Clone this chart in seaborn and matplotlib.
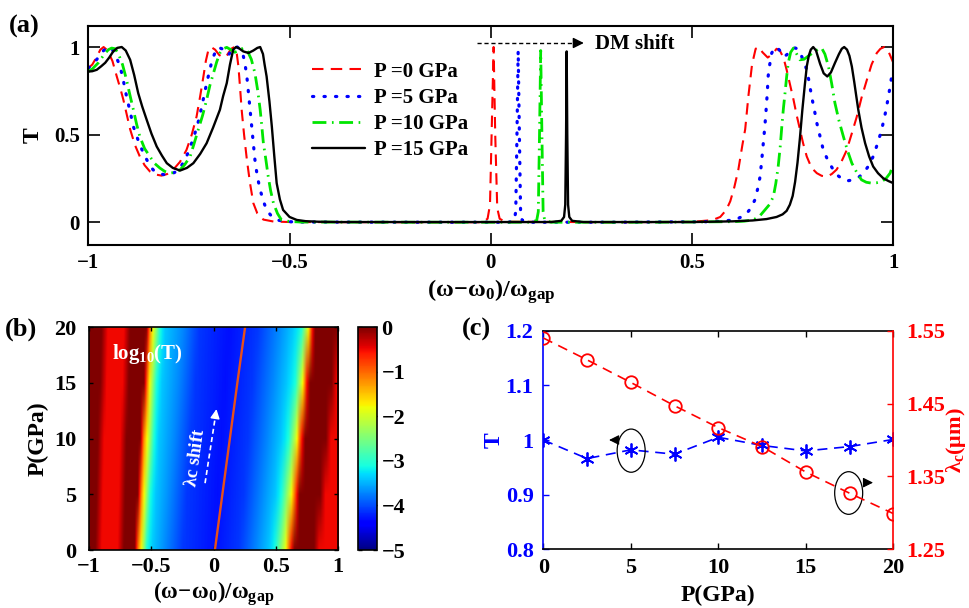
import numpy as np
import matplotlib
matplotlib.use("Agg")
import matplotlib.pyplot as plt
import seaborn as sns
from matplotlib.patches import Ellipse

# ---------------- Panel (a): transmission spectra ----------------
red_x = [-1.0, -0.99, -0.98, -0.97, -0.962, -0.952, -0.94, -0.929, -0.92, -0.913, -0.905, -0.896, -0.884,
         -0.872, -0.86, -0.847, -0.832, -0.818, -0.804, -0.789, -0.772, -0.756, -0.743, -0.731, -0.722,
         -0.714, -0.708, -0.702, -0.695, -0.685, -0.675, -0.665, -0.655, -0.645, -0.637, -0.631, -0.627,
         -0.623, -0.619, -0.613, -0.606, -0.598, -0.59, -0.58, -0.565, -0.54, -0.5, -0.2, -0.02, -0.008,
         -0.002, 0.003, 0.007, 0.011, 0.016, 0.022, 0.035, 0.3, 0.5, 0.55, 0.57, 0.585, 0.595, 0.605,
         0.615, 0.625, 0.632, 0.64, 0.649, 0.658, 0.666, 0.675, 0.688, 0.7, 0.71, 0.718, 0.727, 0.735,
         0.744, 0.752, 0.76, 0.768, 0.776, 0.785, 0.797, 0.81, 0.822, 0.835, 0.847, 0.859, 0.871, 0.884,
         0.896, 0.909, 0.921, 0.934, 0.946, 0.959, 0.968, 0.977, 0.987, 1.0]
red_T = [0.88, 0.9, 0.94, 0.985, 1.0, 0.98, 0.92, 0.83, 0.76, 0.7, 0.62, 0.53, 0.44,
         0.375, 0.325, 0.29, 0.272, 0.266, 0.275, 0.3, 0.345, 0.413, 0.5, 0.603, 0.72,
         0.832, 0.92, 0.98, 1.0, 0.985, 0.955, 0.94, 0.955, 0.99, 1.0, 0.96, 0.889,
         0.77, 0.642, 0.5, 0.356, 0.22, 0.109, 0.05, 0.015, 0.004, 0.001, 0.0, 0.0, 0.02,
         0.1, 0.6, 1.0, 0.5, 0.08, 0.02, 0.003, 0.0, 0.002, 0.012, 0.03, 0.07, 0.12, 0.2,
         0.3, 0.44, 0.53, 0.72, 0.9, 0.99, 1.0, 0.97, 0.94, 0.96, 0.99, 0.98, 0.94, 0.87,
         0.78, 0.7, 0.61, 0.53, 0.45, 0.375, 0.31, 0.28, 0.265, 0.26, 0.275, 0.3, 0.345, 0.41,
         0.5, 0.6, 0.71, 0.81, 0.9, 0.966, 0.99, 1.0, 0.98, 0.91]

blue_x = [-1.0, -0.99, -0.975, -0.962, -0.95, -0.94, -0.93, -0.921, -0.913, -0.905, -0.896, -0.888, -0.875,
          -0.863, -0.851, -0.839, -0.824, -0.809, -0.795, -0.78, -0.768, -0.756, -0.745, -0.735, -0.726,
          -0.718, -0.71, -0.702, -0.695, -0.689, -0.683, -0.677, -0.668, -0.66, -0.652, -0.645, -0.638,
          -0.63, -0.622, -0.615, -0.611, -0.606, -0.602, -0.598, -0.594, -0.59, -0.586, -0.58, -0.573,
          -0.565, -0.557, -0.545, -0.532, -0.51, -0.48, -0.2, 0.045, 0.058, 0.062, 0.065, 0.068, 0.071,
          0.074, 0.078, 0.09, 0.3, 0.55, 0.58, 0.607, 0.622, 0.636, 0.646, 0.656, 0.663, 0.669, 0.673,
          0.677, 0.681, 0.684, 0.687, 0.689, 0.693, 0.698, 0.704, 0.71, 0.718, 0.727, 0.735, 0.745, 0.755,
          0.762, 0.77, 0.777, 0.785, 0.791, 0.797, 0.804, 0.81, 0.818, 0.826, 0.838, 0.851, 0.863, 0.876,
          0.888, 0.901, 0.913, 0.926, 0.938, 0.95, 0.961, 0.971, 0.98, 0.988, 0.996, 1.0]
blue_T = [0.88, 0.9, 0.94, 0.98, 1.0, 0.985, 0.94, 0.889, 0.81, 0.718, 0.63, 0.546, 0.46,
          0.394, 0.34, 0.299, 0.278, 0.27, 0.275, 0.29, 0.325, 0.375, 0.44, 0.508, 0.58,
          0.661, 0.75, 0.832, 0.9, 0.946, 0.98, 0.998, 0.99, 0.965, 0.955, 0.975, 0.998,
          1.0, 0.985, 0.95, 0.909, 0.83, 0.737, 0.64, 0.546, 0.45, 0.356, 0.26, 0.185,
          0.12, 0.07, 0.035, 0.013, 0.004, 0.001, 0.0, 0.0, 0.01, 0.06, 0.5, 0.98, 0.5,
          0.06, 0.01, 0.0, 0.0, 0.003, 0.008, 0.013, 0.03, 0.051, 0.08, 0.127, 0.19, 0.26, 0.35,
          0.451, 0.55, 0.642, 0.74, 0.832, 0.9, 0.966, 0.99, 1.0, 0.98, 0.946, 0.955, 0.98, 0.995,
          0.99, 0.96, 0.92, 0.87, 0.8, 0.718, 0.64, 0.566, 0.49, 0.413, 0.35, 0.299, 0.265, 0.242,
          0.237, 0.242, 0.255, 0.28, 0.32, 0.375, 0.45, 0.527, 0.62, 0.718, 0.832, 0.87]

green_x = [-1.0, -0.99, -0.975, -0.96, -0.95, -0.942, -0.933, -0.925, -0.915, -0.905, -0.897, -0.888, -0.88,
           -0.872, -0.86, -0.847, -0.835, -0.822, -0.81, -0.797, -0.785, -0.772, -0.76, -0.747, -0.737,
           -0.727, -0.716, -0.706, -0.698, -0.689, -0.681, -0.673, -0.665, -0.656, -0.646, -0.636, -0.626,
           -0.615, -0.605, -0.595, -0.586, -0.579, -0.573, -0.569, -0.565, -0.559, -0.553, -0.547, -0.54,
           -0.53, -0.52, -0.5, -0.47, -0.2, 0.1, 0.114, 0.118, 0.121, 0.124, 0.127, 0.13, 0.134, 0.15,
           0.4, 0.6, 0.63, 0.652, 0.668, 0.681, 0.692, 0.702, 0.708, 0.714, 0.719, 0.723, 0.727, 0.731,
           0.735, 0.739, 0.745, 0.752, 0.76, 0.768, 0.778, 0.79, 0.805, 0.815, 0.822, 0.83, 0.839, 0.847,
           0.855, 0.865, 0.876, 0.886, 0.897, 0.909, 0.921, 0.933, 0.946, 0.958, 0.971, 0.982, 0.992, 1.0]
green_T = [0.86, 0.875, 0.91, 0.96, 0.985, 0.994, 0.99, 0.96, 0.9, 0.813, 0.73, 0.642, 0.56,
           0.489, 0.42, 0.375, 0.335, 0.309, 0.29, 0.28, 0.285, 0.299, 0.33, 0.375, 0.45,
           0.527, 0.61, 0.699, 0.78, 0.851, 0.915, 0.966, 0.99, 0.998, 0.985, 0.97, 0.98,
           0.994, 0.98, 0.93, 0.851, 0.75, 0.642, 0.55, 0.451, 0.36, 0.261, 0.18, 0.109,
           0.05, 0.013, 0.004, 0.001, 0.0, 0.0, 0.01, 0.06, 0.5, 0.98, 0.5, 0.06, 0.01, 0.0,
           0.0, 0.003, 0.006, 0.013, 0.035, 0.07, 0.1, 0.146, 0.22, 0.318, 0.43, 0.546, 0.65, 0.737,
           0.83, 0.909, 0.97, 0.994, 0.96, 0.927, 0.93, 0.95, 0.975, 0.99, 0.994, 0.96, 0.889, 0.79,
           0.68, 0.58, 0.489, 0.41, 0.337, 0.285, 0.242, 0.228, 0.223, 0.225, 0.232, 0.25, 0.28, 0.33]

black_x = [-1.0, -0.99, -0.979, -0.968, -0.958, -0.948, -0.938, -0.928, -0.917, -0.907, -0.896, -0.886, -0.876,
           -0.866, -0.855, -0.843, -0.83, -0.817, -0.805, -0.79, -0.772, -0.755, -0.739, -0.722, -0.706,
           -0.69, -0.673, -0.665, -0.656, -0.648, -0.64, -0.633, -0.627, -0.615, -0.602, -0.59, -0.58,
           -0.573, -0.566, -0.562, -0.557, -0.55, -0.544, -0.538, -0.532, -0.524, -0.516, -0.5, -0.482,
           -0.46, -0.43, -0.38, 0.15, 0.175, 0.182, 0.185, 0.187, 0.1885, 0.19, 0.192, 0.195, 0.202, 0.23,
           0.5, 0.55, 0.6, 0.65, 0.685, 0.71, 0.725, 0.735, 0.743, 0.75, 0.756, 0.762, 0.768, 0.774, 0.78,
           0.785, 0.79, 0.795, 0.801, 0.808, 0.818, 0.827, 0.836, 0.845, 0.855, 0.865, 0.872, 0.878, 0.885,
           0.891, 0.897, 0.903, 0.908, 0.913, 0.921, 0.93, 0.94, 0.95, 0.962, 0.975, 0.988, 1.0]
black_T = [0.86, 0.862, 0.87, 0.89, 0.91, 0.94, 0.975, 0.995, 1.0, 0.98, 0.927, 0.84, 0.737,
           0.66, 0.585, 0.505, 0.432, 0.38, 0.337, 0.31, 0.295, 0.31, 0.337, 0.39, 0.451,
           0.54, 0.642, 0.72, 0.794, 0.9, 0.985, 1.0, 0.995, 0.975, 0.966, 0.98, 0.995,
           1.0, 0.96, 0.9, 0.832, 0.69, 0.546, 0.38, 0.223, 0.13, 0.07, 0.03, 0.013,
           0.006, 0.003, 0.001, 0.001, 0.008, 0.03, 0.1, 0.5, 0.975, 0.5, 0.1, 0.03, 0.008, 0.001,
           0.001, 0.003, 0.005, 0.01, 0.018, 0.03, 0.045, 0.065, 0.1, 0.15, 0.23, 0.34, 0.48, 0.64, 0.78,
           0.889, 0.95, 0.985, 1.0, 0.98, 0.905, 0.85, 0.832, 0.855, 0.909, 0.96, 0.99, 1.0, 0.985,
           0.95, 0.889, 0.8, 0.72, 0.642, 0.54, 0.451, 0.375, 0.318, 0.28, 0.251, 0.235, 0.223]

legend_labels = ["P =0 GPa", "P =5 GPa", "P =10 GPa", "P =15 GPa"]

# ---------------- Panel (b): log10(T) map ----------------
hm_P = [0, 5, 10, 15, 20]
hm_levels = [0.0, 0.0, -0.5, -0.5, 0.0, 0.0, -1.2, -1.9, -3.1, -3.4, -3.7, -4.1, -4.3,
             -4.1, -3.7, -3.4, -3.1, -1.9, -1.2, -0.6, 0.0, 0.0, -0.5, -0.5]
hm_x_P0 = [-1.00, -0.95, -0.90, -0.77, -0.72, -0.635, -0.604, -0.577, -0.537, -0.49, -0.39, -0.25, 0.00,
           0.20, 0.34, 0.44, 0.49, 0.57, 0.595, 0.615, 0.645, 0.80, 0.84, 1.00]
hm_x_P5 = [-1.00, -0.94, -0.89, -0.76, -0.71, -0.61, -0.58, -0.555, -0.51, -0.465, -0.355, -0.22, 0.03,
           0.24, 0.385, 0.49, 0.54, 0.615, 0.64, 0.66, 0.685, 0.85, 0.89, 1.05]
hm_x_P10 = [-1.00, -0.93, -0.88, -0.75, -0.70, -0.59, -0.56, -0.53, -0.48, -0.44, -0.32, -0.185, 0.06,
            0.275, 0.43, 0.535, 0.595, 0.66, 0.68, 0.70, 0.73, 0.895, 0.935, 1.10]
hm_x_P15 = [-1.00, -0.91, -0.86, -0.73, -0.68, -0.56, -0.53, -0.51, -0.46, -0.415, -0.285, -0.15, 0.09,
            0.31, 0.475, 0.58, 0.65, 0.705, 0.725, 0.74, 0.77, 0.94, 0.98, 1.15]
hm_x_P20 = [-1.00, -0.90, -0.85, -0.72, -0.67, -0.54, -0.51, -0.484, -0.43, -0.39, -0.25, -0.12, 0.12,
            0.35, 0.52, 0.63, 0.70, 0.75, 0.77, 0.785, 0.81, 0.99, 1.03, 1.20]
dm_P = [0, 5, 10, 15, 20]
dm_x = [0.010, 0.070, 0.130, 0.190, 0.252]

# ---------------- Panel (c) ----------------
P_c = [0, 2.5, 5, 7.5, 10, 12.5, 15, 17.5, 20]
T_c = [1.000, 0.966, 0.982, 0.974, 1.005, 0.990, 0.980, 0.988, 1.001]
lam_c = [1.540, 1.510, 1.479, 1.447, 1.417, 1.391, 1.356, 1.327, 1.299]

# ---------------- style ----------------
sns.set_style("ticks")
plt.rcParams["font.family"] = ["Liberation Serif", "DejaVu Serif"]
plt.rcParams["font.weight"] = "bold"
plt.rcParams["axes.labelweight"] = "bold"
plt.rcParams["mathtext.fontset"] = "custom"
plt.rcParams["mathtext.rm"] = "Liberation Serif:bold"
plt.rcParams["mathtext.it"] = "Liberation Serif:bold"
plt.rcParams["mathtext.bf"] = "Liberation Serif:bold"
plt.rcParams["axes.edgecolor"] = "black"
plt.rcParams["xtick.color"] = "black"
plt.rcParams["ytick.color"] = "black"
plt.rcParams["axes.labelcolor"] = "black"
plt.rcParams["text.color"] = "black"

fig = plt.figure(figsize=(9.69, 6.08), dpi=100)
W, H = 969.0, 608.0


def box(l, t, r, b):
    return [l / W, 1 - b / H, (r - l) / W, (b - t) / H]


xlab = r"$\mathrm{(\omega\!-\!\omega_0)/\omega_{gap}}$"

# ---------- (a) ----------
axa = fig.add_axes(box(88.3, 26, 893.3, 245))
styles = [
    (red_x, red_T, "#ff0000", 1.5, (0, (5.5, 3.5)), "butt"),
    (blue_x, blue_T, "#0000ff", 2.3, (0, (0.4, 3.2)), "round"),
    (green_x, green_T, "#00e600", 2.0, (0, (5.0, 2.0, 0.6, 2.0)), "butt"),
    (black_x, black_T, "#000000", 1.7, "-", "butt"),
]
for (xs, ys, col, lw, ls, cap), lab in zip(styles, legend_labels):
    sns.lineplot(x=xs, y=ys, ax=axa, color=col, lw=lw, linestyle=ls, estimator=None, sort=False,
                 label=lab, dash_capstyle=cap)
axa.set_xlim(-1, 1)
axa.set_ylim(-0.13, 1.12)
axa.set_xticks([-1, -0.5, 0, 0.5, 1])
axa.set_xticklabels(["\u22121", "\u22120.5", "0", "0.5", "1"])
axa.set_yticks([0, 0.5, 1])
axa.set_yticklabels(["0", "0.5", "1"])
axa.tick_params(direction="in", length=8.5, width=1.2, top=True, right=True, labelsize=15, pad=6)
for s in axa.spines.values():
    s.set_linewidth(1.5)
axa.set_xlabel(xlab, fontsize=17.5)
axa.xaxis.set_label_coords(0.5, -0.145)
axa.set_ylabel("T", fontsize=17, rotation=90)
axa.yaxis.set_label_coords(-0.055, 0.5)
leg = axa.legend(loc="upper left", bbox_to_anchor=(0.268, 0.875), frameon=False, fontsize=15,
                 handlelength=2.55, handletextpad=0.4, labelspacing=0.3, borderaxespad=0)
# DM shift arrow
axa.plot([-0.034, 0.215], [1.023, 1.023], color="black", lw=1.0, linestyle=(0, (3, 2)))
axa.annotate("", xy=(0.238, 1.023), xytext=(0.205, 1.023),
             arrowprops=dict(arrowstyle="-|>", color="black", lw=1.0, mutation_scale=16))
axa.text(0.259, 1.018, "DM shift", fontsize=15, fontweight="bold", ha="left", va="center")

# ---------- (b) ----------
axb = fig.add_axes(box(89, 327.3, 338.3, 550))
x_fine = np.linspace(-1, 1, 801)
rows = [hm_x_P0, hm_x_P5, hm_x_P10, hm_x_P15, hm_x_P20]
Z = np.array([np.interp(x_fine, r, hm_levels) for r in rows])
dx = x_fine[1] - x_fine[0]
img = axb.imshow(Z, extent=[-1 - dx / 2, 1 + dx / 2, -2.5, 22.5], origin="lower", aspect="auto",
                 interpolation="bilinear", cmap="jet", vmin=-5, vmax=0)
sns.lineplot(x=dm_x, y=dm_P, ax=axb, color="#e8501a", lw=1.7, estimator=None, sort=False)
axb.set_xlim(-1, 1)
axb.set_ylim(0, 20)
axb.set_xticks([-1, -0.5, 0, 0.5, 1])
axb.set_xticklabels(["\u22121", "\u22120.5", "0", "0.5", "1"])
axb.set_yticks([0, 5, 10, 15, 20])
axb.set_yticklabels(["0", "5", "10", "15", "20"])
axb.tick_params(direction="in", length=3, width=1, top=True, right=True, labelsize=16, pad=5)
axb.tick_params(axis="y", pad=9)
axb.tick_params(axis="x", pad=5)
for s in axb.spines.values():
    s.set_linewidth(1.2)
axb.set_xlabel(xlab, fontsize=16.5)
axb.xaxis.set_label_coords(0.5, -0.13)
axb.set_ylabel("P(GPa)", fontsize=17)
axb.yaxis.set_label_coords(-0.16, 0.5)
axb.text(-0.53, 17.6, r"log$_{10}$(T)", color="white", fontsize=15, fontweight="bold",
         ha="center", va="center")
axb.text(-0.145, 8.3, r"$\mathrm{\lambda c}$ shift", color="white", fontsize=13.5, fontweight="bold",
         ha="center", va="center", rotation=82)
axb.plot([-0.069, 0.018], [6.0, 12.3], color="white", lw=1.2, linestyle=(0, (3, 2)))
axb.annotate("", xy=(0.026, 12.9), xytext=(0.012, 11.9),
             arrowprops=dict(arrowstyle="-|>", color="white", lw=1.0, mutation_scale=14))

cax = fig.add_axes(box(358.3, 327.3, 377.3, 550))
cb = fig.colorbar(img, cax=cax, ticks=[0, -1, -2, -3, -4, -5])
cb.ax.set_yticklabels(["0", "\u22121", "\u22122", "\u22123", "\u22124", "\u22125"])
cb.ax.tick_params(direction="in", length=3, width=1, labelsize=16, pad=3, left=True)
cb.outline.set_linewidth(1.2)

# ---------- (c) ----------
axc = fig.add_axes(box(543.3, 330.7, 893.3, 549.3))
sns.lineplot(x=P_c, y=T_c, ax=axc, color="#0000ff", lw=1.2, linestyle=(0, (6, 4)), marker=(6, 2, 0),
             markersize=10, markeredgecolor="#0000ff", markeredgewidth=1.3, estimator=None, sort=False)
axc.set_xlim(0, 20)
axc.set_ylim(0.8, 1.2)
axc.set_xticks([0, 5, 10, 15, 20])
axc.set_xticklabels(["0", "5", "10", "15", "20"])
axc.set_yticks([0.8, 0.9, 1.0, 1.1, 1.2])
axc.set_yticklabels(["0.8", "0.9", "1", "1.1", "1.2"])
axc.tick_params(axis="x", direction="in", length=4, width=1, top=True, labelsize=16, pad=6)
axc.tick_params(axis="y", direction="in", length=4, width=1, labelsize=16, colors="#0000ff", pad=7)
axc.spines["left"].set_color("#0000ff")
axc.spines["right"].set_visible(False)
for s in axc.spines.values():
    s.set_linewidth(1.2)
axc.set_xlabel("P(GPa)", fontsize=17)
axc.xaxis.set_label_coords(0.5, -0.165)
axc.set_ylabel("T", fontsize=17, color="#0000ff")
axc.yaxis.set_label_coords(-0.11, 0.5)

axc.add_patch(Ellipse((5.02, 0.9805), 1.6, 0.079, fill=False, edgecolor="black", lw=0.9, zorder=5))
axc.add_patch(Ellipse((17.45, 0.903), 1.6, 0.078, fill=False, edgecolor="black", lw=0.9, zorder=5))
axc.annotate("", xy=(3.6, 1.0), xytext=(4.3, 1.0),
             arrowprops=dict(arrowstyle="-|>", color="black", lw=0.8, mutation_scale=15))
axc.annotate("", xy=(19.0, 0.922), xytext=(18.25, 0.922),
             arrowprops=dict(arrowstyle="-|>", color="black", lw=0.8, mutation_scale=15))

ax2 = axc.twinx()
sns.lineplot(x=P_c, y=lam_c, ax=ax2, color="#ff0000", lw=1.2, linestyle=(0, (6, 4)), marker="o",
             markersize=9, markerfacecolor="none", markeredgecolor="#ff0000", markeredgewidth=1.3,
             estimator=None, sort=False)
ax2.set_ylim(1.25, 1.55)
ax2.set_yticks([1.25, 1.35, 1.45, 1.55])
ax2.set_yticklabels(["1.25", "1.35", "1.45", "1.55"])
ax2.tick_params(axis="y", direction="in", length=4, width=1, labelsize=16, colors="#ff0000", pad=9)
ax2.spines["right"].set_color("#ff0000")
ax2.spines["left"].set_visible(False)
ax2.spines["top"].set_visible(False)
ax2.spines["bottom"].set_visible(False)
for s in ax2.spines.values():
    s.set_linewidth(1.2)
ax2.set_ylabel(r"$\mathrm{\lambda_c}$" + "(\u03bcm)", fontsize=16, color="#ff0000")
ax2.yaxis.set_label_coords(1.145, 0.5)
ax2.yaxis.label.set_rotation(90)

# panel letters
fig.text(9 / W, 1 - 26 / H, "(a)", fontsize=19, fontweight="bold", va="center", ha="left")
fig.text(5 / W, 1 - 329 / H, "(b)", fontsize=19, fontweight="bold", va="center", ha="left")
fig.text(462 / W, 1 - 329 / H, "(c)", fontsize=19, fontweight="bold", va="center", ha="left")

fig.savefig("out.png", dpi=100)
